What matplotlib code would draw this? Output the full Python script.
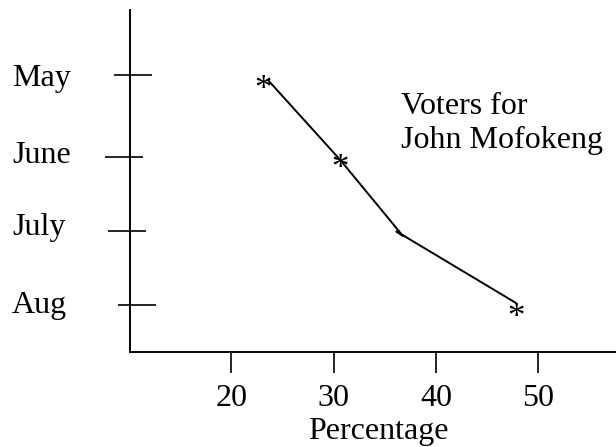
import matplotlib
matplotlib.use("Agg")
import matplotlib.pyplot as plt
import matplotlib.transforms as mtransforms

months = ["May", "June", "July", "Aug"]
month_pos = [4.11, 3.0, 2.0, 1.0]

# line as drawn (July has a small overlap/hook between the two strokes)
line_x = [23.6, 30.6, 36.8, 36.1, 47.8]
line_y = [4.04, 2.97, 1.93, 2.0, 1.03]

# asterisks marking the months with a mark
star_x = [23.1, 30.6, 47.8]
star_y = [4.01, 2.95, 0.93]

xticks = [20, 30, 40, 50]

plt.rcParams['font.family'] = ['Liberation Serif', 'DejaVu Serif']

fig = plt.figure(figsize=(6.16, 4.47), dpi=100)
ax = fig.add_axes([130/616, 95/447, 486/616, 342/447])

ax.plot(line_x, line_y, color="black", lw=1.4, solid_joinstyle="miter")
for sx, sy in zip(star_x, star_y):
    # the asterisk glyph sits high, so nudge it down onto the point
    ax.annotate("*", (sx, sy), xytext=(0, -6), textcoords="offset points",
                fontsize=25, ha="center", va="center")

ax.set_xlim(10.1, 57.6)
ax.set_ylim(0.365, 4.99)

for s in ["top", "right"]:
    ax.spines[s].set_visible(False)
for s in ["left", "bottom"]:
    ax.spines[s].set_linewidth(1.4)

ax.set_xticks(xticks)
ax.set_xticklabels([str(t) for t in xticks], fontsize=23)
ax.tick_params(axis="x", direction="out", length=15, width=1.2, pad=8)

ax.set_yticks(month_pos)
ax.set_yticklabels(months, fontsize=23)
ax.tick_params(axis="y", direction="inout", length=28, width=1.2, pad=71)

# hand drawn look: labels sit a bit above their ticks, ticks not centred
label_nudge = [0, 4, 5, 2]
tick_nudge = [2.5, -4, -2, 4.7]
ytick_objs = ax.yaxis.get_major_ticks()
for tk, n, m in zip(ytick_objs, label_nudge, tick_nudge):
    tk.label1.set_horizontalalignment("left")
    tk.label1.set_transform(tk.label1.get_transform() +
                            mtransforms.ScaledTranslation(0, n / 72, fig.dpi_scale_trans))
    tk.tick1line.set_transform(tk.tick1line.get_transform() +
                               mtransforms.ScaledTranslation(m / 72, 0, fig.dpi_scale_trans))

ax.text(0.510, -0.231, "Percentage", transform=ax.transAxes,
        fontsize=23, ha="center", va="center")
ax.text(0.558, 0.759, "Voters for\nJohn Mofokeng", transform=ax.transAxes,
        fontsize=23, ha="left", va="top")

fig.savefig("out.png", dpi=100)
